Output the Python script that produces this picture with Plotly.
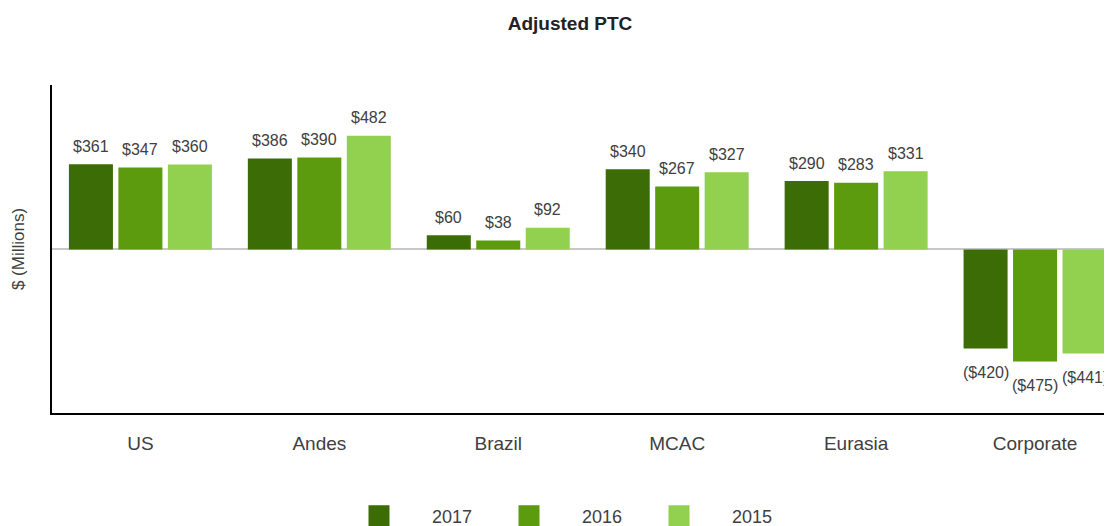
import plotly.graph_objects as go

categories = ["US", "Andes", "Brazil", "MCAC", "Eurasia", "Corporate"]
years = ["2017", "2016", "2015"]
values_2017 = [361, 386, 60, 340, 290, -420]
values_2016 = [347, 390, 38, 267, 283, -475]
values_2015 = [360, 482, 92, 327, 331, -441]
colors = ["#3c6c05", "#5b9b0d", "#92d050"]

series = [values_2017, values_2016, values_2015]

def fmt(v):
    return f"(${abs(v)})" if v < 0 else f"${v}"

step = 0.2765
width = 0.246
xs = list(range(len(categories)))

# page body has an 8px default margin, so the figure is sized to fit the window
W, H = 1104, 518

fig = go.Figure()
annotations = []
for k, (yr, vals, col) in enumerate(zip(years, series, colors)):
    centre = (k - 1) * step
    fig.add_trace(go.Bar(
        x=xs, y=vals, name=yr, marker=dict(color=col, line=dict(width=0)),
        width=width, offset=centre - width / 2, showlegend=False,
        hoverinfo="skip",
    ))
    # legend proxy with larger square
    fig.add_trace(go.Scatter(
        x=[None], y=[None], mode="markers", name=yr,
        marker=dict(symbol="square", size=16, color=col, line=dict(color=col, width=5)),
    ))
    for i, v in zip(xs, vals):
        annotations.append(dict(
            x=i + centre, y=v, text=fmt(v), showarrow=False,
            xanchor="center", yanchor="middle",
            yshift=18 if v >= 0 else -24,
            font=dict(size=16, color="#404040", family="Arial, Liberation Sans, sans-serif"),
        ))

fig.update_layout(
    width=W, height=H,
    margin=dict(l=44, r=0, t=77, b=113, autoexpand=False),
    paper_bgcolor="white", plot_bgcolor="white",
    barmode="overlay",
    font=dict(family="Arial, Liberation Sans, sans-serif", color="#404040"),
    title=dict(text="<b>Adjusted PTC</b>", x=562 / W, xanchor="center", y=1 - 15 / H, yanchor="middle",
               font=dict(size=19, color="#222222")),
    annotations=annotations,
    legend=dict(orientation="h", xref="container", yref="container",
                x=318 / W, xanchor="left", y=1 - 508 / H, yanchor="middle",
                font=dict(size=18, color="#404040"), itemwidth=96,
                entrywidth=39, entrywidthmode="pixels", bgcolor="rgba(0,0,0,0)"),
    showlegend=True,
)
fig.update_xaxes(
    range=[-0.494, 5.43], tickmode="array", tickvals=xs, ticktext=categories,
    showline=True, linecolor="black", linewidth=2, showgrid=False, zeroline=False,
    ticks="outside", ticklen=12, tickcolor="rgba(0,0,0,0)",
    tickfont=dict(size=19, color="#404040"),
)
fig.update_yaxes(
    range=[-693, 697], showline=True, linecolor="black", linewidth=2,
    showgrid=False, zeroline=True, zerolinecolor="#c8c8c8", zerolinewidth=1.5,
    showticklabels=False, ticks="",
    title=dict(text="$ (Millions)", font=dict(size=17, color="#404040"), standoff=21),
)

fig.write_html("out.html")
